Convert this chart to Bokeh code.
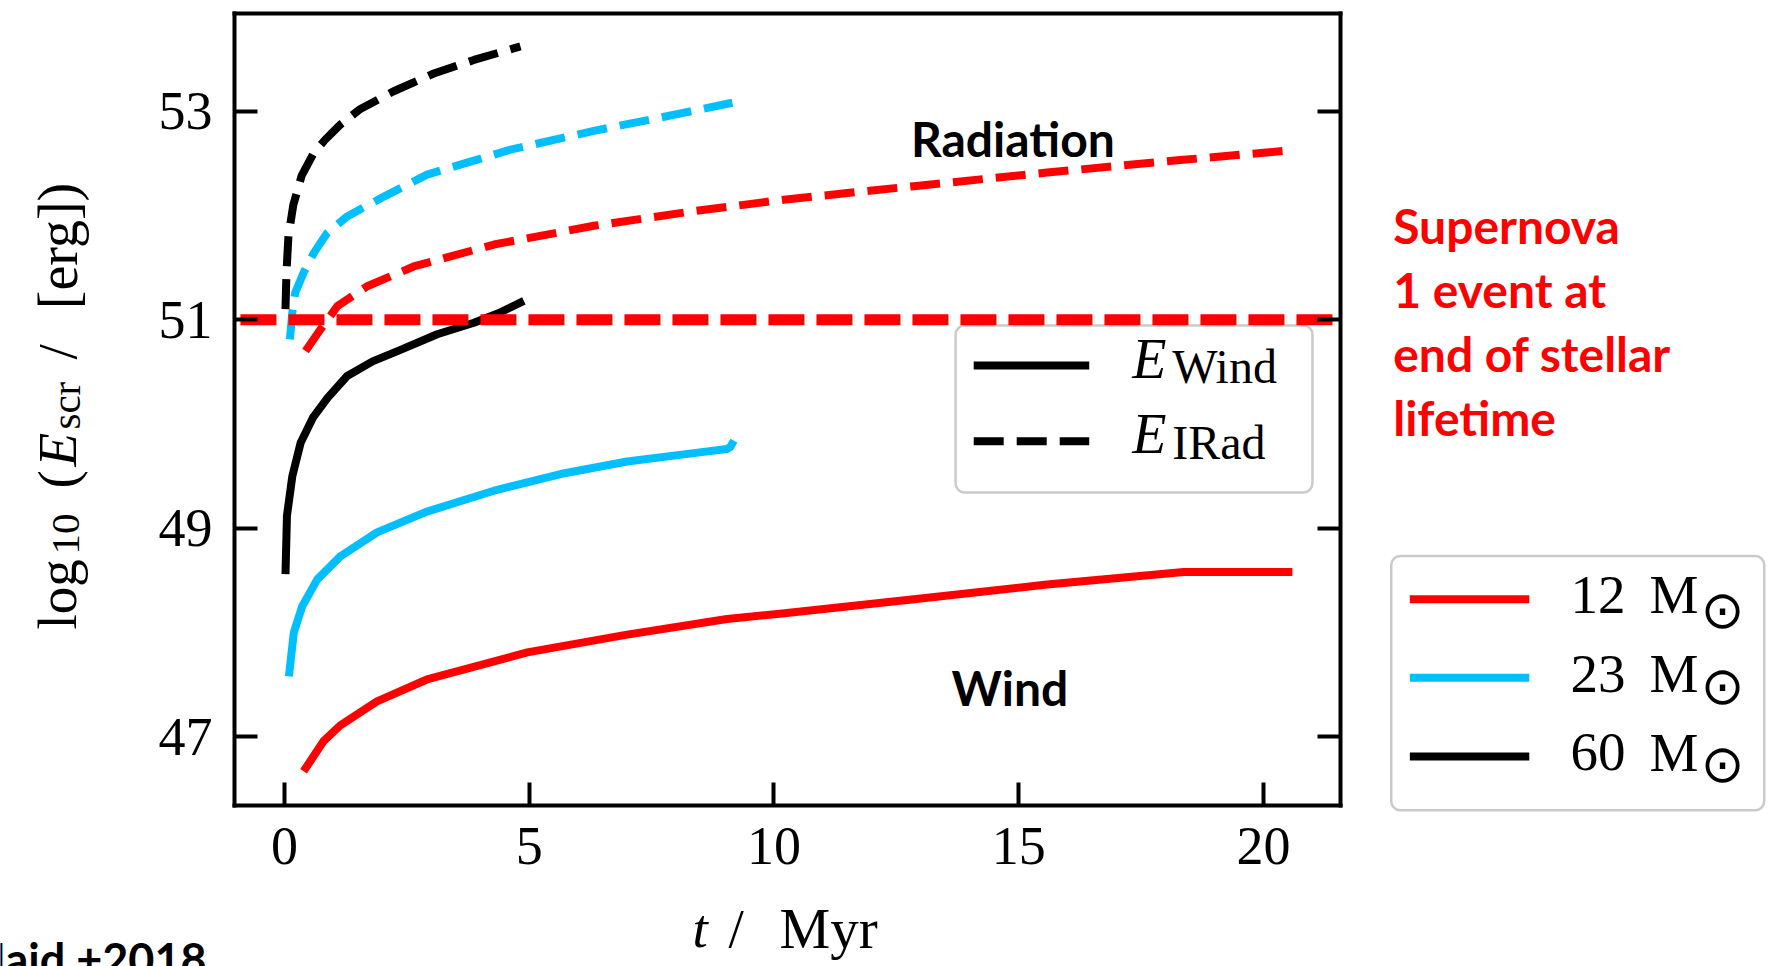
import math

from bokeh.plotting import figure
from bokeh.models import Range1d, FixedTicker, LinearAxis, Label, BoxAnnotation, Arrow
from bokeh.embed import file_html
from bokeh.resources import INLINE

# Cumulative energy injected by a single star, log10(E / erg), against time in Myr.
# Stellar wind (solid)
t_wind_12 = [0.39, 0.80, 1.14, 1.89, 2.91, 4.96, 7.00, 9.04, 10.12, 12.86, 15.58, 18.37, 20.59]
e_wind_12 = [46.67, 46.96, 47.11, 47.34, 47.55, 47.81, 47.98, 48.13, 48.18, 48.32, 48.46, 48.58, 48.58]
t_wind_23 = [0.09, 0.19, 0.36, 0.67, 1.14, 1.89, 2.91, 4.28, 5.64, 7.00, 8.36, 9.04, 9.11, 9.18]
e_wind_23 = [47.58, 48.00, 48.25, 48.51, 48.73, 48.96, 49.16, 49.36, 49.52, 49.64, 49.72, 49.76, 49.78, 49.84]
t_wind_60 = [0.02, 0.05, 0.16, 0.33, 0.58, 0.88, 1.28, 1.80, 2.37, 3.12, 3.87, 4.41, 4.89]
e_wind_60 = [48.56, 49.12, 49.50, 49.82, 50.06, 50.25, 50.46, 50.60, 50.71, 50.86, 50.97, 51.07, 51.18]

# Ionising radiation (dashed)
t_rad_12 = [0.43, 0.74, 1.08, 1.69, 2.64, 4.28, 6.32, 8.36, 10.20, 12.86, 15.58, 18.30, 20.48]
e_rad_12 = [50.70, 50.91, 51.13, 51.32, 51.51, 51.72, 51.90, 52.04, 52.15, 52.28, 52.41, 52.53, 52.62]
t_rad_23 = [0.11, 0.16, 0.22, 0.39, 0.60, 0.87, 1.28, 2.03, 2.91, 4.62, 6.32, 8.02, 9.15]
e_rad_23 = [50.81, 51.07, 51.26, 51.45, 51.64, 51.83, 51.99, 52.18, 52.39, 52.63, 52.81, 52.97, 53.08]
t_rad_60 = [0.02, 0.04, 0.08, 0.18, 0.35, 0.60, 0.82, 1.14, 1.55, 2.23, 3.05, 3.87, 4.82]
e_rad_60 = [51.10, 51.45, 51.80, 52.10, 52.38, 52.60, 52.72, 52.87, 53.02, 53.19, 53.36, 53.49, 53.62]

# A single supernova: 1e51 erg
sn_t = [-0.90, 21.57]
sn_e = [51.0, 51.0]

masses = ["12", "23", "60"]
colors = ["#ff0000", "#00bfff", "#000000"]
x_ticks = [0, 5, 10, 15, 20]
y_ticks = [47, 49, 51, 53]

# visible axes box (data units)
X0, X1 = -1.021, 21.573
Y0, Y1 = 46.337, 53.935

SERIF = "Liberation Serif"
SANS = "Lato"

# The drawing area spans the whole page so that the side notes and keys
# can sit outside the axes box; the axes themselves are pinned to the box.
p = figure(
    width=1768, height=966,
    output_backend="svg", toolbar_location=None,
    x_range=Range1d(-5.802, 30.317), y_range=Range1d(44.798, 54.060),
    x_axis_location=None, y_axis_location=None,
    min_border=0,
    background_fill_color="white", border_fill_color="white",
)
p.grid.visible = False
p.outline_line_color = None


def make_axis(ticks, loc, bounds, labels=True):
    ax = LinearAxis(
        ticker=FixedTicker(ticks=ticks), fixed_location=loc, bounds=bounds,
        major_tick_in=23, major_tick_out=0, major_tick_line_width=4,
        minor_tick_line_color=None,
        axis_line_width=4, axis_line_cap="square",
        major_label_text_font=SERIF, major_label_text_font_size="54px",
        major_label_text_color="black" if labels else None,
    )
    return ax


bottom_axis = make_axis(x_ticks, Y0, (X0, X1))
bottom_axis.major_label_standoff = 22
left_axis = make_axis(y_ticks, X0, (Y0, Y1))
left_axis.major_label_standoff = 22
right_axis = make_axis(y_ticks, X1, (Y0, Y1), labels=False)
top_axis = make_axis([], Y1, (X0, X1), labels=False)
p.add_layout(bottom_axis, "below")
p.add_layout(left_axis, "left")
p.add_layout(right_axis, "right")
p.add_layout(top_axis, "above")

# legend frame for the line styles (drawn beneath the curves)
p.add_layout(BoxAnnotation(left=13.71, right=21.0, top=50.944, bottom=49.343,
                           fill_color="white", fill_alpha=1.0,
                           line_color="#505050", line_width=2.5, border_radius=9,
                           level="underlay"))

wind = [(t_wind_12, e_wind_12), (t_wind_23, e_wind_23), (t_wind_60, e_wind_60)]
rad = [(t_rad_12, e_rad_12), (t_rad_23, e_rad_23), (t_rad_60, e_rad_60)]
for (t, e), c in zip(wind, colors):
    p.line(t, e, line_color=c, line_width=8, line_join="round")
for (t, e), c in zip(rad, colors):
    p.line(t, e, line_color=c, line_width=8, line_dash="30 13", line_join="round")

p.line(sn_t, sn_e, line_color="#ff0000", line_width=11, line_dash="36 12")

# small correction so that the glyph baseline lands where intended
LIFT = 0.15      # data units, horizontal text
SIDE = 0.31      # data units, text turned upright


def add_text(x, y, s, size, font=SERIF, style="normal", color="black",
             align="left", baseline="alphabetic", angle=0.0):
    if baseline == "alphabetic":
        if angle:
            x -= SIDE
        else:
            y += LIFT
    p.add_layout(Label(x=x, y=y, text=s, text_font=font, text_font_size=f"{size}px",
                       text_font_style=style, text_color=color, text_align=align,
                       text_baseline=baseline, angle=angle))


def add_key(x0, x1, y, color, dash="solid"):
    p.add_layout(Arrow(x_start=x0, y_start=y, x_end=x1, y_end=y, end=None,
                       line_color=color, line_width=8, line_dash=dash))


# y axis title: log10 (E_scr / [erg])
rot = math.pi / 2
add_text(-4.321, 48.030, "log", 55, angle=rot)
add_text(-4.157, 48.749, "10", 41, angle=rot)
add_text(-4.321, 49.382, "(", 55, angle=rot)
add_text(-4.321, 49.591, "E", 55, style="italic", angle=rot)
add_text(-4.157, 49.946, "scr", 41, angle=rot)
add_text(-4.321, 50.618, "/", 55, angle=rot)
add_text(-4.321, 51.100, "[erg])", 56, angle=rot)

# x axis title: t / Myr
add_text(8.335, 45.010, "t", 55, style="italic")
add_text(9.070, 45.010, "/", 55)
add_text(10.112, 45.010, "Myr", 57)

# style key
add_key(14.08, 16.44, 50.561, "black")
add_key(14.08, 16.44, 49.835, "black", dash="30 13")
add_text(17.317, 50.475, "E", 56, style="italic")
add_text(18.135, 50.401, "Wind", 48)
add_text(17.317, 49.756, "E", 56, style="italic")
add_text(18.135, 49.676, "IRad", 48)

# mass key, beside the axes
p.add_layout(BoxAnnotation(left=22.61, right=30.23, top=48.733, bottom=46.297,
                           fill_color="white", fill_alpha=1.0,
                           line_color="#505050", line_width=2.5, border_radius=9))
key_rows = [48.320, 47.567, 46.812]
label_rows = [48.212, 47.455, 46.704]
sun_rows = [48.219, 47.486, 46.735]
for m, c, yk, yl, ys in zip(masses, colors, key_rows, label_rows, sun_rows):
    add_key(22.99, 25.43, yk, c)
    add_text(26.27, yl, m, 55)
    add_text(27.886, yl, "M", 55)
    add_text(29.380, ys, "\u2299", 52, font="DejaVu Sans", align="center", baseline="middle")

# annotations
add_text(14.88, 52.584, "Radiation", 48, font=SANS, style="bold", align="center")
add_text(14.82, 47.320, "Wind", 48, font=SANS, style="bold", align="center")
for line, y in zip(["Supernova", "1 event at", "end of stellar", "lifetime"],
                   [51.753, 51.136, 50.522, 49.909]):
    add_text(22.65, y, line, 48, font=SANS, style="bold", color="#ff0000")
add_text(-1.590, 44.72, "Haid +2018", 45, font=SANS, style="bold", align="right")

open("out.html", "w").write(file_html(p, INLINE))
